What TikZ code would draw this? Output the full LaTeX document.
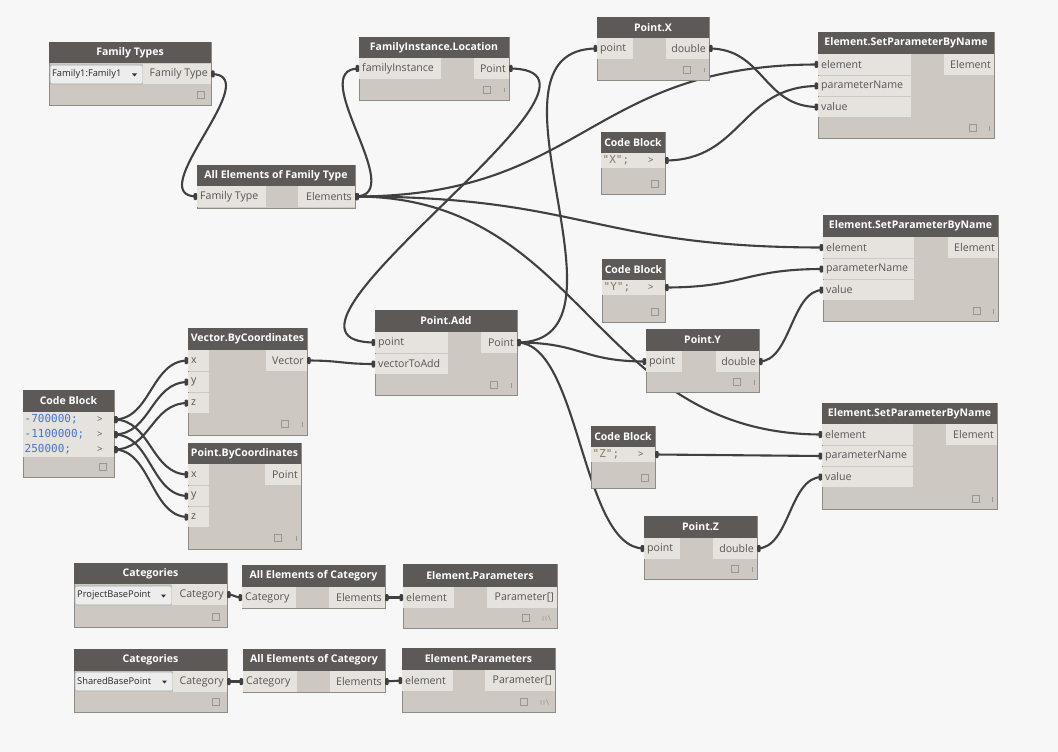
\documentclass[tikz,border=0pt]{standalone}
\usepackage{fontspec}
\setmainfont{Open Sans}
\newfontfamily\codefont{DejaVu Sans Mono}
\definecolor{bgc}{HTML}{F7F7F7}
\definecolor{headc}{HTML}{5C5956}
\definecolor{bodyc}{HTML}{CDC9C2}
\definecolor{portc}{HTML}{E6E3DE}
\definecolor{bordc}{HTML}{8E8A86}
\definecolor{ptext}{HTML}{555555}
\definecolor{wirec}{HTML}{404040}
\definecolor{codeblue}{HTML}{4574C4}
\definecolor{codestr}{HTML}{8A7866}
\definecolor{iconc}{HTML}{9A9692}
\definecolor{ddc}{HTML}{EDEDED}
\definecolor{ddb}{HTML}{A8A8A8}
\pgfdeclarelayer{back}
\pgfdeclarelayer{wires}
\pgfsetlayers{back,wires,main}
\tikzset{
  nbody/.style={anchor=north west, fill=bodyc, draw=bordc, line width=0.8pt, inner sep=0pt, outer sep=0pt},
  nhead/.style={anchor=north west, fill=headc, text=white, font=\fontsize{10.5}{12}\selectfont\bfseries, inner sep=0pt, outer sep=0pt},
  pbg/.style={anchor=north west, fill=portc, inner sep=0pt, outer sep=0pt},
  plbl/.style={font=\fontsize{10.6}{12}\selectfont, text=ptext, inner sep=3pt},
  ddlbl/.style={font=\fontsize{9.3}{11}\selectfont, text=black!85, inner sep=2pt},
  cdl/.style={font=\codefont\fontsize{11}{13}\selectfont, inner sep=1.5pt},
  ddbox/.style={anchor=north west, fill=ddc, draw=ddb, line width=0.6pt, rounded corners=1.5pt, inner sep=0pt, outer sep=0pt},
  wire/.style={draw=wirec, line width=2.1pt},
  nub/.style={fill=wirec, rounded corners=1pt},
  iconln/.style={draw=iconc, line width=0.6pt}
}
\newcommand\dnode[7]{%
  \node[nbody, minimum width={#4-#2}, minimum height={#6-#3}] (#1) at (#2,#3) {};
  \node[nhead, minimum width={#4-#2}, minimum height={#5-#3}] (#1-t) at (#2,#3) {#7};}
\newcommand\pin[6]{\node[pbg, minimum width={#4-#2}, minimum height={#5-#3-1}, label={[plbl,anchor=west]west:{#6}}] (#1) at (#2,#3) {};}
\newcommand\pout[6]{\node[pbg, minimum width={#4-#2}, minimum height={#5-#3-1}, label={[plbl,anchor=east]east:{#6}}] (#1) at (#2,#3) {};}
\newcommand\cout[5]{\node[pbg, minimum width={#4-#2}, minimum height={#5-#3-1}, label={[plbl,anchor=west,inner sep=5pt,font=\fontsize{9.5}{11}\selectfont]west:{>}}] (#1) at (#2,#3) {};}
\newcommand\codeln[6]{\node[pbg, minimum width={#4-#2}, minimum height={#5-#3}, label={[cdl,anchor=west]west:{#6}}] (#1) at (#2,#3) {};}
\newcommand\ddown[6]{\node[ddbox, minimum width={#4-#2}, minimum height={#5-#3}, label={[ddlbl,anchor=west]west:{#6}}] (#1) at (#2,#3) {};
  \fill[black!80] (#4-11,{(#3+#5)/2-1}) -- ++(5,0) -- ++(-2.5,3) -- cycle;}
\newcommand\icon[2]{\draw[iconln] (#1-3.5,#2-3.5) rectangle (#1+3.5,#2+3.5);}
\newcommand\lace[2]{\draw[iconln] (#1,#2-2) -- (#1,#2+2.5);}
\newcommand\lacex[2]{\draw[iconln] (#1,#2-2) -- (#1,#2+2.5) (#1+3,#2-2) -- (#1+3,#2+2.5) (#1+5.5,#2-2.5) -- (#1+7.5,#2+2.5);}
\newcommand\wire[3]{%
  \begin{pgfonlayer}{wires}\draw[wire] (#1.east) .. controls +(#3,0) and +(-#3,0) .. (#2.west);\end{pgfonlayer}
  \fill[nub] ([yshift=3.5pt]#1.east) rectangle ++(3.5,7);
  \fill[nub] ([xshift=-3.5pt,yshift=3.5pt]#2.west) rectangle ++(3.5,7);}
\begin{document}
\begin{tikzpicture}[x=1pt,y=-1pt]
\begin{pgfonlayer}{back}
\fill[bgc] (0,0) rectangle (1058,752);
\end{pgfonlayer}
\useasboundingbox (0,0) rectangle (1058,752);

% Family Types
\dnode{ft}{49}{42}{211}{63}{105}{Family Types}
\ddown{ft-dd}{50}{65}{143}{84}{Family1:Family1}
\pout{ft-o}{143}{64}{211}{85}{Family Type}
\icon{201}{95}

% All Elements of Family Type
\dnode{aeft}{197}{165}{355}{186}{208}{All Elements of Family Type}
\pin{aeft-i}{197}{186}{266}{208}{Family Type}
\pout{aeft-o}{298}{186}{355}{208}{Elements}

% FamilyInstance.Location
\dnode{fil}{359}{37}{509}{58}{100}{FamilyInstance.Location}
\pin{fil-i}{359}{58}{441}{80}{familyInstance}
\pout{fil-o}{474}{58}{509}{80}{Point}
\icon{487}{90}\lace{504}{90}

% Point.X
\dnode{px}{597}{17}{709}{38}{80}{Point.X}
\pin{px-i}{597}{38}{633}{60}{point}
\pout{px-o}{666}{38}{709}{60}{double}
\icon{687}{70}\lace{704}{70}

% SetParameterByName 1
\dnode{sp1}{818}{32}{994}{54}{138}{Element.SetParameterByName}
\pin{sp1-e}{818}{54}{911}{76}{element}
\pin{sp1-n}{818}{76}{911}{97}{parameterName}
\pin{sp1-v}{818}{97}{911}{118}{value}
\pout{sp1-o}{944}{54}{994}{76}{Element}
\icon{973}{128}\lace{989}{128}

% Code Block X
\dnode{cbx}{601}{132}{665}{153}{194}{Code Block}
\codeln{cbx-c}{601}{153}{643}{168}{\color{codestr}"X";}
\cout{cbx-o}{643}{153}{665}{169}
\icon{655}{184}

% SetParameterByName 2
\dnode{sp2}{823}{215}{998}{237}{321}{Element.SetParameterByName}
\pin{sp2-e}{823}{237}{914}{259}{element}
\pin{sp2-n}{823}{259}{914}{280}{parameterName}
\pin{sp2-v}{823}{280}{914}{301}{value}
\pout{sp2-o}{948}{237}{998}{259}{Element}
\icon{977}{311}\lace{993}{311}

% Code Block Y
\dnode{cby}{602}{259}{665}{280}{322}{Code Block}
\codeln{cby-c}{602}{280}{643}{295}{\color{codestr}"Y";}
\cout{cby-o}{643}{280}{665}{296}
\icon{655}{312}

% Point.Y
\dnode{py}{646}{329}{759}{351}{392}{Point.Y}
\pin{py-i}{646}{351}{682}{373}{point}
\pout{py-o}{716}{351}{759}{373}{double}
\icon{737}{382}\lace{754}{382}

% Point.Add
\dnode{pa}{375}{310}{517}{332}{395}{Point.Add}
\pin{pa-p}{375}{332}{448}{354}{point}
\pin{pa-v}{375}{354}{448}{375}{vectorToAdd}
\pout{pa-o}{481}{332}{517}{354}{Point}
\icon{494}{385}\lace{511}{385}

% Code Block Z
\dnode{cbz}{591}{426}{655}{447}{488}{Code Block}
\codeln{cbz-c}{591}{447}{633}{462}{\color{codestr}"Z";}
\cout{cbz-o}{633}{447}{655}{463}
\icon{645}{478}

% SetParameterByName 3
\dnode{sp3}{822}{403}{997}{424}{509}{Element.SetParameterByName}
\pin{sp3-e}{822}{424}{913}{446}{element}
\pin{sp3-n}{822}{446}{913}{467}{parameterName}
\pin{sp3-v}{822}{467}{913}{488}{value}
\pout{sp3-o}{946}{424}{997}{446}{Element}
\icon{976}{499}\lace{992}{499}

% Point.Z
\dnode{pz}{644}{516}{757}{538}{579}{Point.Z}
\pin{pz-i}{644}{538}{680}{560}{point}
\pout{pz-o}{713}{538}{757}{560}{double}
\icon{735}{569}\lace{752}{569}

% Code Block numbers
\dnode{cbn}{23}{390}{114}{412}{477}{Code Block}
\codeln{cbn-c1}{23}{412}{92}{427}{\color{codeblue}-700000;}
\codeln{cbn-c2}{23}{427}{92}{442}{\color{codeblue}-1100000;}
\codeln{cbn-c3}{23}{442}{92}{457}{\color{codeblue}250000;}
\cout{cbn-o1}{92}{412}{114}{428}
\cout{cbn-o2}{92}{427}{114}{443}
\cout{cbn-o3}{92}{442}{114}{458}
\icon{103}{467}

% Vector.ByCoordinates
\dnode{vbc}{188}{328}{307}{350}{435}{Vector.ByCoordinates}
\pin{vbc-x}{188}{350}{209}{372}{x}
\pin{vbc-y}{188}{372}{209}{393}{y}
\pin{vbc-z}{188}{393}{209}{414}{z}
\pout{vbc-o}{266}{350}{307}{372}{Vector}
\icon{285}{424}\lace{302}{424}

% Point.ByCoordinates
\dnode{pbc}{188}{443}{301}{464}{549}{Point.ByCoordinates}
\pin{pbc-x}{188}{464}{209}{486}{x}
\pin{pbc-y}{188}{486}{209}{507}{y}
\pin{pbc-z}{188}{507}{209}{528}{z}
\pout{pbc-o}{265}{464}{301}{486}{Point}
\icon{278}{538}\lace{296}{538}

% Categories 1 row
\dnode{cat1}{74}{563}{227}{584}{627}{Categories}
\ddown{cat1-dd}{75}{586}{172}{605}{ProjectBasePoint}
\pout{cat1-o}{172}{584}{227}{606}{Category}
\icon{216}{617}
\dnode{aec1}{242}{565}{385}{587}{608}{All Elements of Category}
\pin{aec1-i}{242}{587}{296}{609}{Category}
\pout{aec1-o}{329}{587}{385}{609}{Elements}
\dnode{ep1}{403}{564}{557}{587}{628}{Element.Parameters}
\pin{ep1-i}{403}{587}{454}{609}{element}
\pout{ep1-o}{487}{587}{557}{609}{Parameter[]}
\icon{526}{618}\lacex{543}{618}

% Categories 2 row
\dnode{cat2}{74}{649}{227}{671}{712}{Categories}
\ddown{cat2-dd}{75}{672}{173}{691}{SharedBasePoint}
\pout{cat2-o}{173}{671}{227}{693}{Category}
\icon{216}{702}
\dnode{aec2}{243}{649}{385}{671}{692}{All Elements of Category}
\pin{aec2-i}{243}{671}{297}{693}{Category}
\pout{aec2-o}{330}{671}{385}{693}{Elements}
\dnode{ep2}{402}{648}{555}{670}{712}{Element.Parameters}
\pin{ep2-i}{402}{670}{453}{692}{element}
\pout{ep2-o}{485}{670}{555}{692}{Parameter[]}
\icon{524}{702}\lacex{541}{702}

% Wires
\wire{ft-o}{aeft-i}{57}
\wire{aeft-o}{fil-i}{55}
\wire{aeft-o}{sp1-e}{230}
\wire{aeft-o}{sp2-e}{230}
\wire{aeft-o}{sp3-e}{230}
\wire{fil-o}{pa-p}{145}
\wire{vbc-o}{pa-v}{34}
\wire{pa-o}{px-i}{130}
\wire{pa-o}{py-i}{65}
\wire{pa-o}{pz-i}{63}
\wire{px-o}{sp1-v}{55}
\wire{cbx-o}{sp1-n}{77}
\wire{cby-o}{sp2-n}{79}
\wire{py-o}{sp2-v}{32}
\wire{cbz-o}{sp3-n}{83}
\wire{pz-o}{sp3-v}{33}
\wire{cbn-o1}{vbc-x}{37}
\wire{cbn-o1}{pbc-x}{37}
\wire{cbn-o2}{vbc-y}{37}
\wire{cbn-o2}{pbc-y}{37}
\wire{cbn-o3}{vbc-z}{37}
\wire{cbn-o3}{pbc-z}{37}
\wire{cat1-o}{aec1-i}{8}
\wire{aec1-o}{ep1-i}{9}
\wire{cat2-o}{aec2-i}{8}
\wire{aec2-o}{ep2-i}{9}
\end{tikzpicture}
\end{document}
